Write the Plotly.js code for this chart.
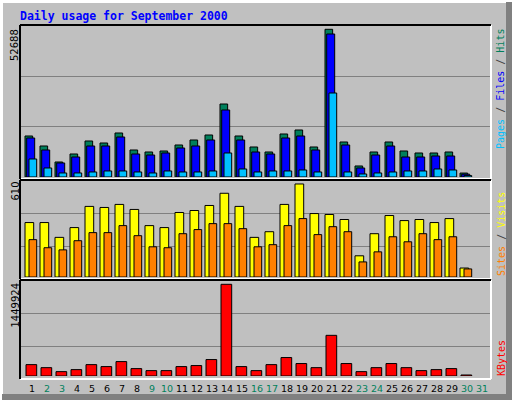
<!DOCTYPE html>
<html>
<head>
<meta charset="utf-8">
<script src="https://cdn.plot.ly/plotly-3.0.1.min.js"></script>
<style>
  body { margin: 0; background: #C0C0C0; }
  #chart { width: 512px; height: 400px; }
</style>
</head>
<body>
<div id="chart"></div>
<script>
// daily values, September 2000
var days = [1, 2, 3, 4, 5, 6, 7, 8, 9, 10, 11, 12, 13, 14, 15, 16, 17, 18, 19, 20, 21, 22, 23, 24, 25, 26, 27, 28, 29, 30];
var hits = [14625, 11058, 5350, 8204, 12841, 12128, 15695, 9631, 8918, 9274, 11414, 13198, 14981, 26039, 14625,
            10701, 8918, 15338, 16765, 10701, 52688, 12485, 3924, 8918, 12485, 9274, 8561, 8561, 8918, 1400];
var files = [13911, 9631, 4994, 7134, 11058, 11058, 14268, 8204, 7847, 8561, 10344, 11058, 13198, 23899, 13198,
             8918, 8204, 13911, 14625, 9631, 51008, 11414, 3210, 7847, 11058, 7134, 7134, 7491, 7491, 1000];
var pages = [6421, 3210, 1427, 1427, 1784, 2140, 2140, 1784, 1427, 2140, 1784, 1784, 2140, 8561, 2854,
             1784, 2140, 2140, 2497, 1784, 29963, 1784, 1070, 1427, 1784, 2140, 2140, 2854, 2497, 500];
var visits = [357, 357, 260, 324, 463, 456, 476, 443, 337, 324, 423, 436, 469, 549, 463,
              260, 297, 476, 610, 416, 410, 377, 139, 284, 403, 370, 377, 357, 383, 59];
var sites = [245, 192, 178, 238, 291, 291, 337, 271, 198, 192, 284, 311, 350, 350, 317,
             198, 212, 337, 383, 278, 330, 297, 99, 165, 264, 231, 284, 245, 264, 53];
var kbytes = [180000, 132000, 69000, 101000, 180000, 149000, 228000, 117000, 85000, 85000, 149000, 165000, 260000, 1449924, 149000,
              85000, 180000, 292000, 197000, 132000, 643000, 197000, 69000, 132000, 197000, 132000, 85000, 101000, 117000, 16000];

// axis labels
var dayLabels = [1, 2, 3, 4, 5, 6, 7, 8, 9, 10, 11, 12, 13, 14, 15, 16, 17, 18, 19, 20, 21, 22, 23, 24, 25, 26, 27, 28, 29, 30, 31];
var weekendDays = [2, 3, 9, 10, 16, 17, 23, 24, 30, 31];
var maxHits = 52688, maxVisits = 610, maxKbytes = 1449924;

var gray = '#C0C0C0', dark = '#808080';

// pixel -> paper helpers (plot area is x 20..491, y 25..376)
function px(x) { return (x - 20) / 471; }
function py(y) { return (376 - y) / 351; }

function bars(vals, axis, color, offset, width) {
  return {
    type: 'bar', x: days, y: vals, yaxis: axis,
    offset: offset, width: width,
    marker: { color: color, line: { color: '#000000', width: 1 } },
    hoverinfo: 'skip'
  };
}

var data = [
  bars(hits, 'y', '#00805C', -0.42, 0.51),
  bars(files, 'y', '#0000FF', -0.307, 0.533),
  bars(pages, 'y', '#00C0FF', -0.153, 0.513),
  bars(visits, 'y2', '#FFFF00', -0.42, 0.58),
  bars(sites, 'y2', '#FF8000', -0.153, 0.513),
  bars(kbytes, 'y3', '#FF0000', -0.353, 0.713)
];

var tickText = dayLabels.map(function (d) {
  var c = weekendDays.indexOf(d) >= 0 ? '#00805C' : '#000000';
  return '<span style="color:' + c + '">' + d + '</span>';
});

function yax(domain, top, grid) {
  return {
    domain: domain, range: [0, top], showticklabels: false, ticks: '',
    tickvals: grid.map(function (f) { return f * top; }),
    showgrid: true, gridcolor: dark, gridwidth: 1,
    zeroline: false, showline: false, fixedrange: true
  };
}

// panel bevels
var shapes = [];
[[25, 179], [180, 279], [280, 379]].forEach(function (p) {
  var t = p[0], b = p[1];
  shapes.push({ type: 'line', xref: 'paper', yref: 'paper', x0: px(20), x1: px(491), y0: py(b), y1: py(b), line: { color: '#FFFFFF', width: 2 } });
  shapes.push({ type: 'line', xref: 'paper', yref: 'paper', x0: px(491), x1: px(491), y0: py(t), y1: py(b), line: { color: '#FFFFFF', width: 2 } });
  shapes.push({ type: 'line', xref: 'paper', yref: 'paper', x0: px(20), x1: px(491), y0: py(t), y1: py(t), line: { color: '#000000', width: 2 } });
  shapes.push({ type: 'line', xref: 'paper', yref: 'paper', x0: px(20), x1: px(20), y0: py(t), y1: py(b), line: { color: '#000000', width: 2 } });
});
// outer frame
shapes.push({ type: 'rect', xref: 'paper', yref: 'paper', x0: px(0), x1: px(3), y0: py(400), y1: py(0), line: { width: 0 }, fillcolor: '#FFFFFF' });
shapes.push({ type: 'rect', xref: 'paper', yref: 'paper', x0: px(0), x1: px(512), y0: py(3), y1: py(0), line: { width: 0 }, fillcolor: '#FFFFFF' });
shapes.push({ type: 'rect', xref: 'paper', yref: 'paper', x0: px(506), x1: px(512), y0: py(400), y1: py(2), line: { width: 0 }, fillcolor: dark });
shapes.push({ type: 'rect', xref: 'paper', yref: 'paper', x0: px(2), x1: px(512), y0: py(400), y1: py(394), line: { width: 0 }, fillcolor: dark });

var numFont = { family: 'DejaVu Sans', size: 10, color: '#000000' };
var tickFont = { family: 'DejaVu Sans', size: 9.5, color: '#000000' };
var sideFont = { family: 'DejaVu Sans Mono', size: 10 };

function sideLabel(html, y, anchor, x) {
  return {
    xref: 'paper', yref: 'paper', x: px(x), y: py(y), xanchor: 'center', yanchor: anchor,
    text: html, textangle: -90, showarrow: false, font: sideFont, borderpad: 0
  };
}
function maxLabel(v, y) {
  return {
    xref: 'paper', yref: 'paper', x: px(15), y: py(y), xanchor: 'center', yanchor: 'top',
    text: String(v), textangle: -90, showarrow: false, font: numFont, borderpad: 0
  };
}

var annotations = [
  maxLabel(maxHits, 28),
  maxLabel(maxVisits, 181),
  maxLabel(maxKbytes, 282),
  sideLabel('<span style="color:#00C0FF">Pages</span> / <span style="color:#0000FF">Files</span> / <span style="color:#00805C">Hits</span>', 28, 'top', 501),
  sideLabel('<span style="color:#FF8000">Sites</span> / <span style="color:#FFFF00">Visits</span>', 277, 'bottom', 501),
  sideLabel('<span style="color:#FF0000">KBytes</span>', 377, 'bottom', 501)
];

var layout = {
  width: 512, height: 400,
  margin: { l: 20, r: 21, t: 25, b: 24 },
  paper_bgcolor: gray, plot_bgcolor: gray,
  showlegend: false,
  barmode: 'overlay',
  title: {
    text: '<b>Daily usage for September 2000</b>',
    font: { family: 'DejaVu Sans Mono', size: 11.5, color: '#0000FF' },
    xref: 'paper', x: 0, xanchor: 'left',
    yref: 'container', y: 1 - 15.5 / 400, yanchor: 'middle'
  },
  xaxis: {
    anchor: 'y3', range: [0.247, 31.647],
    tickvals: dayLabels.map(function (d) { return d + 0.05; }),
    ticktext: tickText,
    ticks: 'outside', ticklen: 4, tickcolor: 'rgba(0,0,0,0)',
    tickfont: tickFont, showgrid: false, zeroline: false, showline: false, fixedrange: true
  },
  yaxis: yax([0.567, 1], 54222, [0.329, 0.664]),
  yaxis2: yax([0.282, 0.5584], 636, [0.316, 0.657]),
  yaxis3: yax([0, 0.2735], 1518000, [0.309, 0.653]),
  shapes: shapes,
  annotations: annotations
};

Plotly.newPlot('chart', data, layout, { displayModeBar: false, staticPlot: true });
</script>
</body>
</html>
